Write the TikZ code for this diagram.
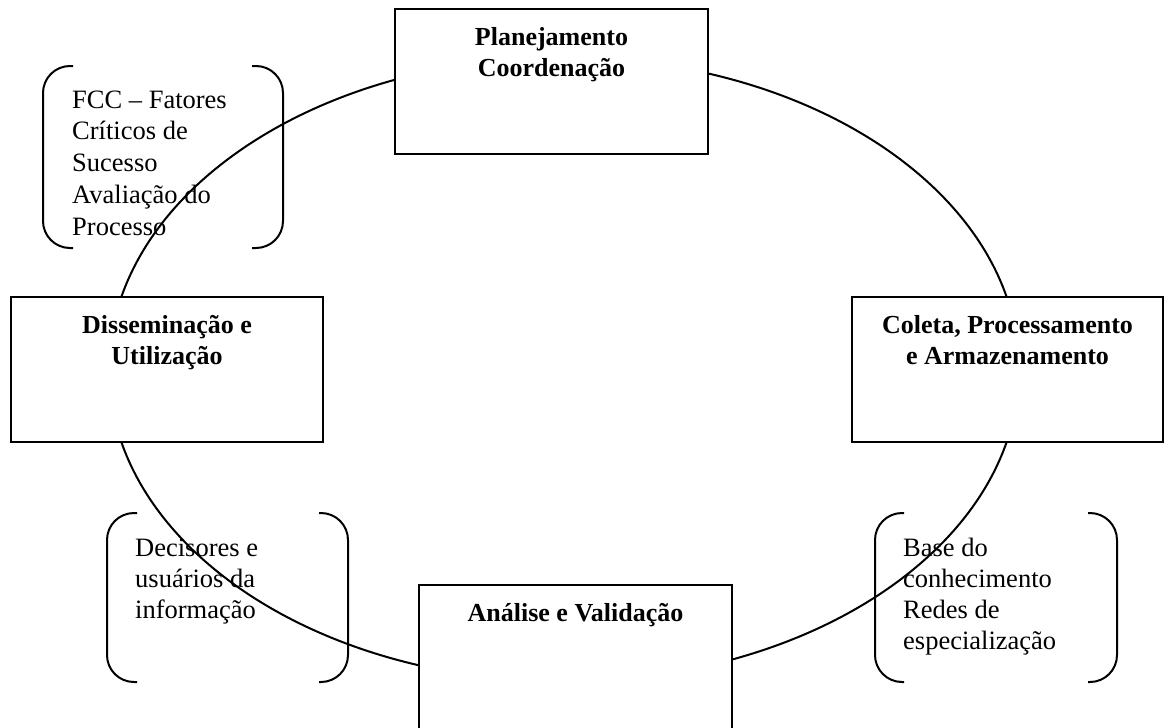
\documentclass[tikz,border=0pt]{standalone}
\usepackage{fontspec}
\setmainfont{Liberation Serif}
\usetikzlibrary{shapes.geometric}
\begin{document}
\begin{tikzpicture}[x=1pt,y=-1pt,
  ciclo/.style={draw, ellipse, line width=2pt, inner sep=0pt,
                minimum width=910pt, minimum height=624pt},
  etapa/.style={draw, fill=white, line width=2pt, inner sep=0pt,
                minimum height=145pt},
  titulo/.style={font=\bfseries\fontsize{26}{31}\selectfont, anchor=base, inner sep=0pt},
  lista/.style={font=\fontsize{26.5}{31}\selectfont, anchor=base west, inner sep=0pt},
  chave/.style={line width=2pt, rounded corners=27pt}]
\useasboundingbox (0,0) rectangle (1170,728);

% the cycle
\node[ciclo] (ciclo) at (564,369.5) {};

% the four stages
\node[etapa, minimum width=313pt] (plan) at (551.5,81) {};
\node[etapa, minimum width=312pt] (diss) at (167,369.5) {};
\node[etapa, minimum width=311pt] (cole) at (1007.5,369.5) {};
\node[etapa, minimum width=313pt] (anal) at (575.5,657.5) {};

\node[titulo] (tplan) at (551.5,45.5) {\begin{tabular}[t]{@{}c@{}}Planejamento\\Coordenação\end{tabular}};
\node[titulo] (tdiss) at (167,333) {\begin{tabular}[t]{@{}c@{}}Disseminação e\\Utilização\end{tabular}};
\node[titulo] (tcole) at (1007.5,333) {\begin{tabular}[t]{@{}c@{}}Coleta, Processamento\\e Armazenamento\end{tabular}};
\node[titulo] (tanal) at (575.5,621.5) {Análise e Validação};

% bracketed notes
\draw[chave] (73,66) -- (43,66) -- (43,248) -- (73,248);
\draw[chave] (252,66) -- (283,66) -- (283,248) -- (252,248);
\node[lista, font=\fontsize{26.5}{31.8}\selectfont] (fcc) at (72,108) {\begin{tabular}[t]{@{}l@{}}FCC – Fatores\\Críticos de\\Sucesso\\Avaliação do\\Processo\end{tabular}};

\draw[chave] (137,513) -- (107,513) -- (107,682) -- (137,682);
\draw[chave] (319,513) -- (348,513) -- (348,682) -- (319,682);
\node[lista] (deci) at (135,556) {\begin{tabular}[t]{@{}l@{}}Decisores e\\usuários da\\informação\end{tabular}};

\draw[chave] (904,513) -- (875,513) -- (875,682) -- (904,682);
\draw[chave] (1088,513) -- (1117,513) -- (1117,682) -- (1088,682);
\node[lista] (base) at (903,556) {\begin{tabular}[t]{@{}l@{}}Base do\\conhecimento\\Redes de\\especialização\end{tabular}};
\end{tikzpicture}
\end{document}
